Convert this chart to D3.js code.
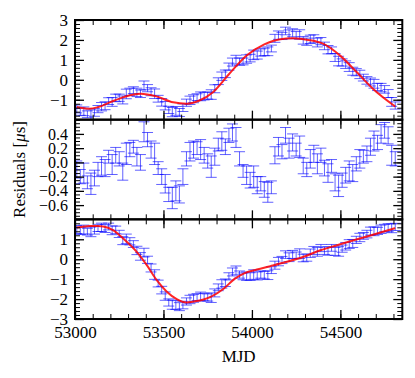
<!DOCTYPE html>
<html lang="en">
<head>
  <meta charset="utf-8">
  <script src="https://d3js.org/d3.v7.min.js"></script>
  <style>
    body { margin: 0; background: #fff; }
    text { font-family: "Liberation Serif", "Times New Roman", serif; }
  </style>
</head>
<body>
<div id="chart"></div>
<script>

// observation epochs (MJD)
var mjd = [53010,53030,53050,53070,53090,53110,53130,53150,53170,53190,
  53210,53230,53250,53270,53290,53310,53330,53350,53370,53390,
  53410,53430,53450,53470,53490,53510,53530,53550,53570,53590,
  53610,53630,53650,53670,53690,53710,53730,53750,53770,53790,
  53810,53830,53850,53870,53890,53910,53930,53950,53970,53990,
  54010,54030,54050,54070,54090,54110,54130,54150,54170,54190,
  54210,54230,54250,54270,54290,54310,54330,54350,54370,54390,
  54410,54430,54450,54470,54490,54510,54530,54550,54570,54590,
  54610,54630,54650,54670,54690,54710,54730,54750,54770,54790,
  54810];

// upper panel data
var topVals = [-1.46,-1.60,-1.58,-1.73,-1.75,-1.64,-1.47,-1.35,-1.30,-1.07,
  -1.11,-0.91,-0.90,-1.01,-0.71,-0.60,-0.52,-0.63,-0.70,-0.28,
  -0.42,-0.60,-0.70,-0.95,-1.13,-1.30,-1.51,-1.62,-1.56,-1.64,
  -1.40,-1.15,-1.03,-0.95,-0.87,-0.83,-0.82,-0.79,-0.74,-0.45,
  -0.07,0.18,0.30,0.66,0.89,1.01,0.91,0.92,1.04,1.09,
  1.25,1.24,1.37,1.40,1.43,1.57,2.08,2.24,2.20,2.45,
  2.28,2.36,2.25,2.27,1.98,1.91,2.03,2.06,1.87,1.94,
  1.70,1.51,1.48,1.12,0.94,0.87,0.76,0.64,0.43,0.38,
  0.27,0.11,-0.03,-0.11,-0.20,-0.36,-0.39,-0.48,-0.69,-1.11,
  -1.29];

// residuals
var resid = [-0.10,-0.20,-0.15,-0.28,-0.30,-0.22,-0.10,-0.05,-0.08,0.08,
  -0.03,0.10,0.05,-0.13,0.12,0.18,0.22,0.08,0.00,0.43,
  0.32,0.18,0.12,-0.08,-0.20,-0.30,-0.45,-0.50,-0.40,-0.45,
  -0.20,0.05,0.15,0.18,0.20,0.18,0.10,0.02,-0.06,0.08,
  0.25,0.30,0.22,0.38,0.42,0.35,0.05,-0.12,-0.18,-0.25,
  -0.20,-0.32,-0.30,-0.38,-0.42,-0.35,0.10,0.22,0.15,0.38,
  0.20,0.28,0.18,0.22,-0.05,-0.10,0.05,0.12,-0.02,0.10,
  -0.08,-0.15,-0.05,-0.28,-0.33,-0.25,-0.18,-0.12,-0.15,-0.02,
  0.05,0.08,0.12,0.22,0.30,0.28,0.40,0.45,0.38,0.10,
  0.05];

// lower panel data
var botVals = [1.49,1.42,1.49,1.38,1.37,1.45,1.57,1.60,1.54,1.64,
  1.45,1.47,1.27,0.93,1.02,0.90,0.76,0.44,0.14,0.33,
  -0.03,-0.44,-0.77,-1.22,-1.55,-1.85,-2.17,-2.28,-2.30,-2.38,
  -2.30,-2.12,-2.02,-1.96,-1.90,-1.87,-1.90,-1.92,-1.93,-1.69,
  -1.41,-1.24,-1.18,-0.86,-0.64,-0.56,-0.77,-0.86,-0.85,-0.87,
  -0.77,-0.84,-0.77,-0.80,-0.80,-0.55,-0.30,-0.12,-0.04,0.23,
  0.10,0.24,0.19,0.28,0.06,0.08,0.30,0.44,0.37,0.56,
  0.43,0.41,0.57,0.39,0.39,0.53,0.65,0.76,0.79,0.97,
  1.09,1.17,1.26,1.41,1.40,1.42,1.50,1.56,1.58,1.55,
  1.62];

// error bars
var errOuter = [0.20,0.18,0.22,0.17,0.24,0.19,0.18,0.21,0.20,0.17,
  0.22,0.19,0.18,0.20,0.24,0.18,0.17,0.21,0.19,0.22,
  0.18,0.20,0.24,0.17,0.19,0.21,0.18,0.23,0.22,0.20,
  0.19,0.18,0.21,0.20,0.17,0.22,0.19,0.18,0.24,0.20,
  0.17,0.21,0.19,0.18,0.20,0.22,0.18,0.17,0.21,0.19,
  0.24,0.20,0.18,0.19,0.22,0.17,0.20,0.21,0.18,0.19,
  0.22,0.20,0.17,0.24,0.19,0.18,0.21,0.20,0.22,0.18,
  0.19,0.21,0.17,0.20,0.24,0.18,0.19,0.22,0.20,0.18,
  0.21,0.17,0.19,0.20,0.22,0.18,0.21,0.19,0.20,0.22,
  0.18];
var errRes = [0.12,0.10,0.14,0.09,0.15,0.11,0.10,0.13,0.12,0.09,
  0.14,0.11,0.10,0.12,0.15,0.10,0.09,0.13,0.11,0.14,
  0.10,0.12,0.15,0.09,0.11,0.13,0.10,0.15,0.14,0.12,
  0.11,0.10,0.13,0.12,0.09,0.14,0.11,0.10,0.15,0.12,
  0.09,0.13,0.11,0.10,0.12,0.14,0.10,0.09,0.13,0.11,
  0.15,0.12,0.10,0.11,0.14,0.09,0.12,0.13,0.10,0.11,
  0.14,0.12,0.09,0.15,0.11,0.10,0.13,0.12,0.14,0.10,
  0.11,0.13,0.09,0.12,0.15,0.10,0.11,0.14,0.12,0.10,
  0.13,0.09,0.11,0.12,0.14,0.10,0.13,0.11,0.12,0.14,
  0.10];

// fitted model curves
var fitTopMjd = [53010,53040,53080,53130,53200,53275,53370,53460,53555,53630,53700,53780,
  53870,53970,54070,54160,54230,54320,54405,54500,54596,54690,54810];
var fitTop = [-1.36,-1.42,-1.45,-1.37,-1.12,-0.87,-0.70,-0.83,-1.13,-1.20,-1.05,-0.62,
  0.28,1.22,1.78,2.04,2.08,2.00,1.80,1.20,0.35,-0.50,-1.34];
var fitBotMjd = [53010,53085,53130,53160,53217,53274,53349,53406,53462,53519,53575,53632,53689,
  53764,53840,53900,53953,54028,54104,54198,54292,54387,54481,54556,54650,54810];
var fitBot = [1.59,1.67,1.67,1.64,1.45,1.03,0.37,-0.30,-1.05,-1.63,-2.00,-2.17,-2.10,
  -1.90,-1.48,-1.00,-0.72,-0.52,-0.35,-0.13,0.12,0.45,0.70,0.90,1.14,1.56];

// tick labels
var topTicks = [-1, 0, 1, 2, 3];
var resTicks = [-0.6, -0.4, -0.2, 0.0, 0.2, 0.4];
var botTicks = [-3, -2, -1, 0, 1];
var xTicks = [53000, 53500, 54000, 54500];

var width = 415, height = 378;
var left = 75, right = 402.3, top0 = 20, ph = 99.67;

var svg = d3.select("#chart").append("svg")
  .attr("width", width)
  .attr("height", height);

var x = d3.scaleLinear().domain([53000, 54850]).range([left, right]);

var panels = [
  {dom: [-2, 3], vals: topVals, err: errOuter, ticks: topTicks, minor: 0.2, fs: 17, fmt: d3.format("d"), fx: fitTopMjd, fy: fitTop},
  {dom: [-0.8, 0.6], vals: resid, err: errRes, ticks: resTicks, minor: 0.05, fs: 16, fmt: d3.format(".1f")},
  {dom: [-3, 2], vals: botVals, err: errOuter, ticks: botTicks, minor: 0.2, fs: 17, fmt: d3.format("d"), fx: fitBotMjd, fy: fitBot}
];

var blue = "rgba(0,0,255,0.62)";
var cap = 5.5;

panels.forEach(function(p, i) {
  var t = top0 + i * ph;
  var y = d3.scaleLinear().domain(p.dom).range([t + ph, t]);

  svg.append("clipPath").attr("id", "clip" + i)
    .append("rect").attr("x", left).attr("y", t).attr("width", right - left).attr("height", ph);

  var g = svg.append("g").attr("clip-path", "url(#clip" + i + ")");

  var pts = mjd.map(function(m, k) { return {m: m, v: p.vals[k], e: p.err[k]}; });

  // error bars
  var eb = g.selectAll(".eb").data(pts).enter().append("g")
    .attr("stroke", blue).attr("stroke-width", 1).attr("fill", "none");
  eb.append("line")
    .attr("x1", function(d) { return x(d.m); }).attr("x2", function(d) { return x(d.m); })
    .attr("y1", function(d) { return y(d.v - d.e); }).attr("y2", function(d) { return y(d.v + d.e); });
  eb.append("line")
    .attr("x1", function(d) { return x(d.m) - cap; }).attr("x2", function(d) { return x(d.m) + cap; })
    .attr("y1", function(d) { return y(d.v - d.e); }).attr("y2", function(d) { return y(d.v - d.e); });
  eb.append("line")
    .attr("x1", function(d) { return x(d.m) - cap; }).attr("x2", function(d) { return x(d.m) + cap; })
    .attr("y1", function(d) { return y(d.v + d.e); }).attr("y2", function(d) { return y(d.v + d.e); });

  // model curve
  if (p.fx) {
    var line = d3.line()
      .x(function(d, k) { return x(p.fx[k]); })
      .y(function(d) { return y(d); })
      .curve(d3.curveMonotoneX);
    g.append("path").datum(p.fy)
      .attr("d", line)
      .attr("fill", "none")
      .attr("stroke", "rgba(255,0,0,0.85)")
      .attr("stroke-width", 2);
  }

  // y axes: major + minor, left and right, ticks pointing inward
  var minorY = d3.range(p.dom[0], p.dom[1] + 1e-9, p.minor);
  svg.append("g").attr("transform", "translate(" + left + ",0)")
    .call(d3.axisLeft(y).tickValues(minorY).tickSize(-5).tickFormat(""))
    .call(function(a) { a.select(".domain").remove(); a.selectAll("line").attr("stroke-width", 1); });
  svg.append("g").attr("transform", "translate(" + right + ",0)")
    .call(d3.axisRight(y).tickValues(minorY).tickSize(-5).tickFormat(""))
    .call(function(a) { a.select(".domain").remove(); a.selectAll("line").attr("stroke-width", 1); });

  svg.append("g").attr("transform", "translate(" + left + ",0)")
    .call(d3.axisLeft(y).tickValues(p.ticks).tickSize(-9).tickPadding(7).tickFormat(p.fmt))
    .call(function(a) {
      a.select(".domain").remove();
      a.selectAll("line").attr("stroke-width", 1.3);
      a.selectAll("text").attr("font-size", p.fs).attr("fill", "#000")
        .attr("font-family", "Liberation Serif, Times New Roman, serif");
    });
  svg.append("g").attr("transform", "translate(" + right + ",0)")
    .call(d3.axisRight(y).tickValues(p.ticks).tickSize(-9).tickFormat(""))
    .call(function(a) { a.select(".domain").remove(); a.selectAll("line").attr("stroke-width", 1.3); });

  // x ticks on top and bottom of each panel
  var minorX = d3.range(53000, 54851, 100);
  [t, t + ph].forEach(function(yy, j) {
    var ax = j == 0 ? d3.axisTop : d3.axisBottom;
    svg.append("g").attr("transform", "translate(0," + yy + ")")
      .call(ax(x).tickValues(minorX).tickSize(-5).tickFormat(""))
      .call(function(a) { a.select(".domain").remove(); a.selectAll("line").attr("stroke-width", 1); });
    svg.append("g").attr("transform", "translate(0," + yy + ")")
      .call(ax(x).tickValues(xTicks).tickSize(-9).tickFormat(""))
      .call(function(a) { a.select(".domain").remove(); a.selectAll("line").attr("stroke-width", 1.3); });
  });

  // frame
  svg.append("rect")
    .attr("x", left).attr("y", t).attr("width", right - left).attr("height", ph)
    .attr("fill", "none").attr("stroke", "#000").attr("stroke-width", 2);
});

// x tick labels under the last panel
svg.append("g").attr("transform", "translate(0," + (top0 + 3 * ph) + ")")
  .call(d3.axisBottom(x).tickValues(xTicks).tickSize(0).tickPadding(7).tickFormat(d3.format("d")))
  .call(function(a) {
    a.select(".domain").remove();
    a.selectAll("text").attr("font-size", 17).attr("fill", "#000")
      .attr("font-family", "Liberation Serif, Times New Roman, serif");
  });

svg.append("text")
  .attr("x", (left + right) / 2).attr("y", 362)
  .attr("text-anchor", "middle")
  .attr("font-size", 17)
  .text("MJD");

var yl = svg.append("text")
  .attr("transform", "translate(25," + (top0 + 1.5 * ph) + ") rotate(-90)")
  .attr("text-anchor", "middle")
  .attr("font-size", 17);
yl.append("tspan").text("Residuals [");
yl.append("tspan").attr("font-style", "italic").text("\u03bc");
yl.append("tspan").text("s]");

</script>
</body>
</html>
